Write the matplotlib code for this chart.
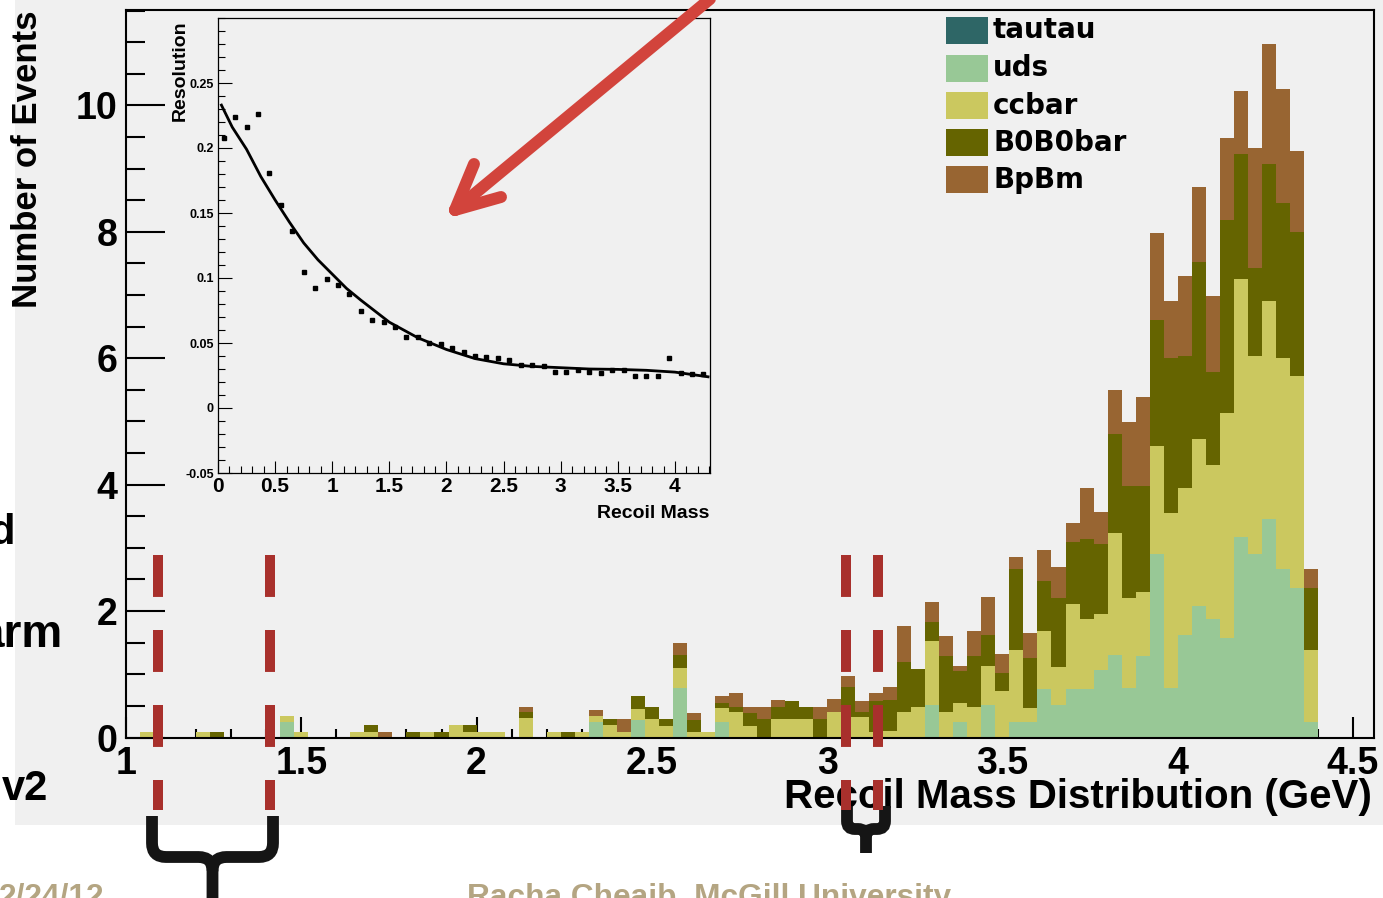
import matplotlib
matplotlib.use("Agg")
import matplotlib.pyplot as plt
from matplotlib.patches import Rectangle, PathPatch
from matplotlib.path import Path
from matplotlib.lines import Line2D
from matplotlib.ticker import MultipleLocator, FuncFormatter
from matplotlib import font_manager as fm

plt.rcParams['lines.scale_dashes'] = False

# ---------------- data ----------------
bin_start = 1.0
bin_width = 0.04

tautau = [0, 0, 0, 0, 0, 0, 0, 0, 0, 0,
          0, 0, 0, 0, 0, 0, 0, 0, 0, 0,
          0, 0, 0, 0, 0, 0, 0, 0, 0, 0,
          0, 0, 0, 0, 0, 0, 0, 0, 0, 0,
          0, 0, 0, 0, 0, 0, 0, 0, 0, 0,
          0, 0, 0, 0, 0, 0, 0, 0, 0, 0,
          0, 0, 0, 0, 0, 0, 0, 0, 0, 0,
          0, 0, 0, 0, 0, 0, 0, 0, 0, 0,
          0, 0, 0, 0, 0]
uds = [0, 0, 0, 0, 0, 0, 0, 0, 0, 0,
       0, .25, 0, 0, 0, 0, 0, 0, 0, 0,
       0, 0, 0, 0, 0, 0, 0, 0, 0, 0,
       0, 0, 0, .25, 0, 0, .27, 0, 0, .79,
       0, 0, .25, 0, 0, 0, 0, 0, 0, 0,
       0, 0, 0, 0, 0, 0, 0, .52, 0, .25,
       0, .52, 0, .25, .25, .76, .52, .76, .76, 1.07,
       1.31, .78, 1.29, 2.90, .78, 1.62, 2.08, 1.87, 1.57, 3.18,
       2.91, 3.45, 2.66, 2.36, .25]
ccbar = [0, .09, 0, 0, 0, .09, 0, 0, 0, 0,
         0, .09, .09, 0, 0, 0, .09, .09, 0, 0,
         0, .09, 0, .19, .09, .09, .09, 0, .31, 0,
         .09, 0, .09, .09, .20, .09, .18, .30, .18, .31,
         .09, .09, .21, .41, .18, 0, .30, .30, .30, 0,
         .41, .33, .33, .09, .10, .41, .49, 1.01, .41, .29,
         .49, .61, .73, 1.13, .21, .93, .59, 1.35, 1.11, .89,
         1.93, 1.43, 1.01, 1.71, 2.77, 2.32, 2.65, 2.44, 3.56, 4.07,
         3.12, 3.45, 3.34, 3.36, 1.13]
b0b0bar = [0, 0, 0, 0, 0, 0, .09, 0, 0, 0,
           0, 0, 0, 0, 0, 0, 0, .10, 0, 0,
           .09, 0, .09, 0, .10, 0, 0, 0, .09, 0,
           0, .09, 0, 0, .10, 0, .20, .18, .12, .21,
           .18, 0, .09, .08, .21, .29, .18, .28, .19, .30,
           0, .47, .08, .49, .49, .79, .60, .30, .88, .51,
           .80, .49, .29, 1.28, .79, .79, 1.10, .98, 1.27, 1.10,
           1.56, 1.77, 1.68, 2.00, 2.45, 2.09, 2.79, 1.47, 3.06, 1.98,
           1.40, 2.17, 2.46, 2.28, .98]
bpbm = [0, 0, 0, 0, 0, 0, 0, 0, 0, 0,
        0, 0, 0, 0, 0, 0, 0, 0, .09, 0,
        0, 0, 0, 0, 0, 0, 0, 0, .09, 0,
        0, 0, 0, .09, 0, .21, 0, 0, 0, .18,
        .12, 0, .10, .22, .10, .20, .12, 0, 0, .19,
        .20, .17, .17, .13, .21, .57, 0, .31, .31, .08,
        .40, .61, .30, .19, .40, .49, .48, .31, .80, .51,
        .70, 1.01, 1.40, 1.37, .90, 1.27, 1.19, 1.21, 1.30, 1.00,
        1.89, 1.90, 1.80, 1.28, .30]

series_names = ["tautau", "uds", "ccbar", "B0B0bar", "BpBm"]
series_colors = ["#2e6666", "#98c896", "#cbc85f", "#656400", "#986532"]

x_ticks = [1, 1.5, 2, 2.5, 3, 3.5, 4, 4.5]
y_ticks = [0, 2, 4, 6, 8, 10]

# inset: resolution vs recoil mass
res_mass = [0.05, 0.15, 0.25, 0.35, 0.45, 0.55, 0.65, 0.75, 0.85, 0.95,
            1.05, 1.15, 1.25, 1.35, 1.45, 1.55, 1.65, 1.75, 1.85, 1.95,
            2.05, 2.15, 2.25, 2.35, 2.45, 2.55, 2.65, 2.75, 2.85, 2.95,
            3.05, 3.15, 3.25, 3.35, 3.45, 3.55, 3.65, 3.75, 3.85, 3.95,
            4.05, 4.15, 4.25]
res_vals = [.208, .224, .216, .226, .181, .156, .136, .105, .092, .099,
            .095, .088, .075, .068, .066, .062, .055, .055, .050, .049,
            .046, .043, .040, .0395, .0387, .0367, .033, .033, .032, .0277,
            .0277, .029, .028, .0266, .029, .029, .025, .025, .025, .0382,
            .027, .026, .026]
fit_mass = [0.03, 0.125, 0.25, 0.375, 0.5, 0.625, 0.75, 0.875, 1.0, 1.125,
            1.25, 1.5, 1.75, 2.0, 2.25, 2.5, 2.75, 3.0, 3.25, 3.5,
            3.75, 4.0, 4.29]
fit_vals = [.233, .216, .199, .178, .160, .143, .127, .114, .103, .092,
            .083, .066, .054, .045, .038, .034, .032, .031, .030, .0297,
            .029, .0276, .024]

# ---------------- fonts ----------------
avail = {f.name for f in fm.fontManager.ttflist}
SANS = 'Liberation Sans' if 'Liberation Sans' in avail else 'DejaVu Sans'

W, H = 1383, 898
fig = plt.figure(figsize=(W / 100, H / 100), dpi=100, facecolor='white')


def fx(px):
    return px / W


def fy(py):
    return 1 - py / H


GREY = '#f0f0f0'
fig.add_artist(Rectangle((fx(15), fy(825)), fx(1383) - fx(15), fy(0) - fy(825),
                         transform=fig.transFigure, facecolor=GREY,
                         edgecolor='none', zorder=0))

# ---------------- main axes ----------------
ax = fig.add_axes([fx(126), fy(737.5), fx(1374) - fx(126), fy(10) - fy(737.5)])
ax.set_facecolor(GREY)
n_bins = len(uds)
edges = [bin_start + bin_width * i for i in range(n_bins)]
bottom = [0.0] * n_bins
for name, vals, col in zip(series_names, [tautau, uds, ccbar, b0b0bar, bpbm], series_colors):
    ax.bar(edges, vals, width=bin_width, bottom=bottom, align='edge',
           color=col, linewidth=0, zorder=2)
    bottom = [b + v for b, v in zip(bottom, vals)]

ax.set_xlim(1.0, 4.56)
ax.set_ylim(0, 11.51)
ax.set_xticks(x_ticks)
ax.set_yticks(y_ticks)
ax.xaxis.set_minor_locator(MultipleLocator(0.1))
ax.yaxis.set_minor_locator(MultipleLocator(0.5))
ax.xaxis.set_major_formatter(FuncFormatter(lambda v, p: f"{v:g}"))
ax.tick_params(axis='both', which='both', direction='in', width=1.5,
               top=False, right=False, zorder=5)
ax.tick_params(axis='y', which='major', length=28, pad=6)
ax.tick_params(axis='y', which='minor', length=13.7)
ax.tick_params(axis='x', which='major', length=15, pad=6)
ax.tick_params(axis='x', which='minor', length=6.5)
for lab in ax.get_xticklabels() + ax.get_yticklabels():
    lab.set_fontfamily(SANS)
    lab.set_fontweight('bold')
    lab.set_fontsize(27)
for sp in ax.spines.values():
    sp.set_linewidth(1.5)
    sp.set_zorder(6)

fig.text(fx(1372), fy(797), "Recoil Mass Distribution (GeV)", ha='right', va='center',
         fontsize=29, fontweight='bold', family=SANS)
fig.text(fx(28), fy(10), "Number of Events", rotation=90, ha='center', va='top',
         fontsize=25, fontweight='bold', family=SANS)

# legend (manual, ROOT style)
row_tops = [17, 55, 92, 129, 166]
for name, col, top in zip(series_names, series_colors, row_tops):
    fig.add_artist(Rectangle((fx(946), fy(top + 27)), fx(988) - fx(946), fy(top) - fy(top + 27),
                             transform=fig.transFigure, facecolor=col, edgecolor='none', zorder=8))
    fig.text(fx(993), fy(top + 13.5), name, ha='left', va='center', fontsize=20,
             fontweight='bold', family='DejaVu Sans', zorder=8)

# ---------------- inset ----------------
ai = fig.add_axes([fx(218), fy(473), fx(710) - fx(218), fy(18) - fy(473)])
ai.set_facecolor(GREY)
ai.plot(fit_mass, fit_vals, color='black', lw=2.0, zorder=3)
ai.plot(res_mass, res_vals, ls='none', marker='s', ms=2.2, color='black', zorder=4)
ai.set_xlim(0, 4.307)
ai.set_ylim(-0.05, 0.30)
ai.set_xticks([0, 0.5, 1, 1.5, 2, 2.5, 3, 3.5, 4])
ai.set_yticks([-0.05, 0, 0.05, 0.1, 0.15, 0.2, 0.25])
ai.xaxis.set_minor_locator(MultipleLocator(0.1))
ai.yaxis.set_minor_locator(MultipleLocator(0.01))
ai.xaxis.set_major_formatter(FuncFormatter(lambda v, p: f"{v:g}"))
ai.yaxis.set_major_formatter(FuncFormatter(lambda v, p: f"{v:g}"))
ai.tick_params(axis='both', which='both', direction='in', width=0.8, top=False, right=False)
ai.tick_params(axis='y', which='major', length=10, pad=3, labelsize=9)
ai.tick_params(axis='y', which='minor', length=5)
ai.tick_params(axis='x', which='major', length=8.6, pad=3, labelsize=15)
ai.tick_params(axis='x', which='minor', length=5)
for lab in ai.get_yticklabels() + ai.get_xticklabels():
    lab.set_fontfamily(SANS)
    lab.set_fontweight('bold')
for sp in ai.spines.values():
    sp.set_linewidth(0.9)
fig.text(fx(709), fy(518), "Recoil Mass", ha='right', va='baseline', fontsize=14,
         fontweight='bold', family=SANS)
fig.text(fx(180), fy(20), "Resolution", rotation=90, ha='center', va='top', fontsize=14,
         fontweight='bold', family=SANS)

# ---------------- annotations ----------------
RED = '#d2443c'
arrow_lines = [([455, 716], [210, -6]), ([455, 474], [210, 164]), ([455, 501], [210, 197])]
for xs, ys in arrow_lines:
    fig.add_artist(Line2D([fx(v) for v in xs], [fy(v) for v in ys], transform=fig.transFigure,
                          color=RED, lw=8.6, solid_capstyle='round', zorder=20))

DASH = '#a8302c'
for xpx in [158, 270, 846, 878]:
    ln = Line2D([fx(xpx), fx(xpx)], [fy(555), fy(810)], transform=fig.transFigure,
                color=DASH, lw=7.2, zorder=21, dash_capstyle='butt',
                linestyle=(0, (30.2, 23.8)))
    fig.add_artist(ln)


def brace(xl, xr, ytop, ybar, ystem, r):
    xc = (xl + xr) / 2
    pts = [(xl, ytop), (xl, ybar - r), (xl, ybar), (xl + r, ybar),
           (xc - r, ybar), (xc, ybar), (xc, ybar + r), (xc, ystem)]
    codes = [Path.MOVETO, Path.LINETO, Path.CURVE3, Path.CURVE3,
             Path.LINETO, Path.CURVE3, Path.CURVE3, Path.LINETO]
    pts2 = [(xr, ytop), (xr, ybar - r), (xr, ybar), (xr - r, ybar),
            (xc + r, ybar), (xc, ybar), (xc, ybar + r)]
    codes2 = [Path.MOVETO, Path.LINETO, Path.CURVE3, Path.CURVE3,
              Path.LINETO, Path.CURVE3, Path.CURVE3]
    for p, c in [(pts, codes), (pts2, codes2)]:
        path = Path([(fx(a), fy(b)) for a, b in p], c)
        fig.add_artist(PathPatch(path, transform=fig.transFigure, facecolor='none',
                                 edgecolor='#151515', lw=8.5, capstyle='butt', zorder=15))


brace(152, 273, 816, 857, 905, 14)
brace(847, 885, 806, 829, 853, 8)

# slide text around the chart
for txt, xr, yb, fs in [("d", 15, 544, 30), ("arm", 63, 647, 33), ("v2", 48, 800, 30)]:
    fig.text(fx(xr), fy(yb), txt, ha='right', va='baseline', fontsize=fs,
             fontweight='bold', family=SANS, zorder=25)

TAN = '#b4a582'
fig.text(fx(105), fy(906), "2/24/12", ha='right', va='baseline', fontsize=22.8,
         fontweight='bold', family=SANS, color=TAN)
fig.text(fx(467), fy(906), "Racha Cheaib, McGill University", ha='left', va='baseline',
         fontsize=22.8, fontweight='bold', family=SANS, color=TAN)

fig.savefig("out.png", dpi=100, facecolor='white')
